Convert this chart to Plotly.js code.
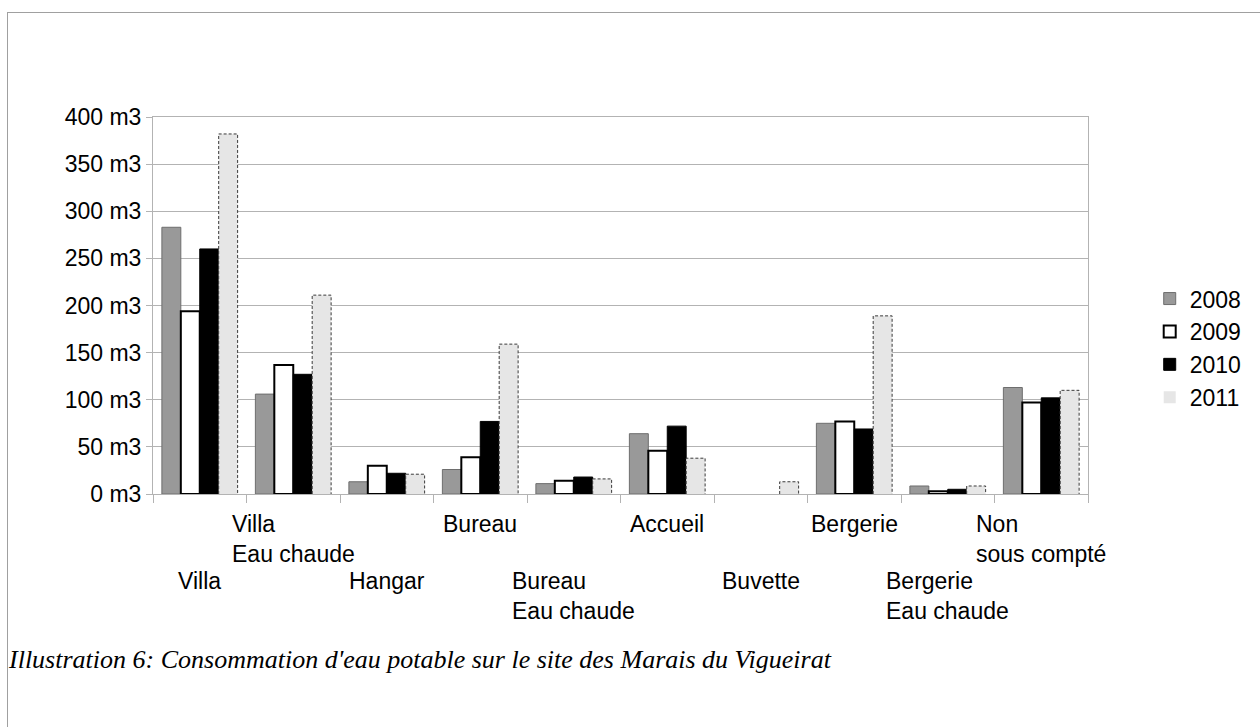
<!DOCTYPE html>
<html>
<head>
<meta charset="utf-8">
<script src="https://cdn.plot.ly/plotly-3.0.1.min.js"></script>
<style>
  html, body { margin: 0; padding: 0; background: #fff; }
  #wrap { position: relative; width: 1260px; height: 727px; }
  #chart { width: 1260px; height: 727px; }
  #frame { position: absolute; left: 7px; top: 12px; right: 0; bottom: 0;
           border-top: 1px solid #a0a0a0; border-left: 1px solid #a0a0a0; pointer-events: none; }
</style>
</head>
<body>
<div id="wrap">
  <div id="chart"></div>
  <div id="frame"></div>
</div>
<script>
const categories = ["Villa", "Villa<br>Eau chaude", "Hangar", "Bureau", "Bureau<br>Eau chaude",
                    "Accueil", "Buvette", "Bergerie", "Bergerie<br>Eau chaude", "Non<br>sous compté"];
const years = ["2008", "2009", "2010", "2011"];
const v2008 = [283, 106, 13, 26, 11, 64, null, 75, 8.5, 113];
const v2009 = [194, 137, 30, 39, 14, 46, null, 77, 3, 97];
const v2010 = [260, 127, 22, 77, 18, 72, null, 69, 5, 102];
const v2011 = [382, 211, 21, 159, 16, 38, 13, 189, 8.5, 110];
const yTicks = [0, 50, 100, 150, 200, 250, 300, 350, 400];

const idx = categories.map((_, i) => i);
const barW = 0.2025;
const offsets = [-2, -1, 0, 1].map(k => k * barW);

const styles = [
  {fill: "#999999", line: "#6e6e6e", lw: 1},
  {fill: "#ffffff", line: "#000000", lw: 2},
  {fill: "#000000", line: "#000000", lw: 1},
  {fill: "#e6e6e6", line: "#e6e6e6", lw: 0}
];
const series = [v2008, v2009, v2010, v2011];

const traces = series.map((vals, k) => ({
  type: "bar",
  name: years[k],
  x: idx,
  y: vals,
  width: barW,
  offset: offsets[k],
  marker: {color: styles[k].fill, line: {color: styles[k].line, width: styles[k].lw}},
  hoverinfo: "y+name"
}));

// dashed outline for 2011 bars, derived from data
const ox = [], oy = [];
v2011.forEach((v, i) => {
  if (v === null) return;
  const x0 = i + offsets[3], x1 = x0 + barW;
  ox.push(x0, x0, x1, x1, null);
  oy.push(0, v, v, 0, null);
});
traces.push({
  type: "scatter", mode: "lines", x: ox, y: oy, showlegend: false, hoverinfo: "skip",
  line: {color: "#3a3a3a", width: 1, dash: "3px,2px"}
});

const annotations = categories.map((c, i) => ({
  x: i, xref: "x",
  y: (i % 2 === 1) ? -0.04 : -0.19, yref: "paper",
  xanchor: "center", yanchor: "top", align: "left",
  text: c, showarrow: false,
  font: {family: "Liberation Sans, Arial, sans-serif", size: 23, color: "#000"}
}));
annotations.push({
  x: -0.157, xref: "paper", y: -0.44, yref: "paper",
  xanchor: "left", yanchor: "middle", showarrow: false,
  text: "<i>Illustration 6: Consommation d'eau potable sur le site des Marais du Vigueirat</i>",
  font: {family: "Liberation Serif, Times New Roman, serif", size: 26, color: "#000"}
});

const boundaries = categories.map((_, i) => i - 0.5).concat([categories.length - 0.5]);

const layout = {
  width: 1260, height: 727,
  margin: {l: 153, r: 172, t: 117, b: 233, pad: 0},
  paper_bgcolor: "#fff", plot_bgcolor: "#fff",
  barmode: "overlay",
  showlegend: true,
  legend: {
    x: 1.066, xanchor: "left", y: 0.387, yanchor: "middle",
    font: {family: "Liberation Sans, Arial, sans-serif", size: 23, color: "#000"},
    bgcolor: "rgba(0,0,0,0)", tracegroupgap: 0
  },
  xaxis: {
    type: "linear", range: [-0.5, categories.length - 0.5],
    tickmode: "array", tickvals: boundaries, showticklabels: false,
    ticks: "outside", ticklen: 8, tickcolor: "#b3b3b3", tickwidth: 1,
    showgrid: false, zeroline: false,
    showline: true, linecolor: "#b3b3b3", linewidth: 1, mirror: true, fixedrange: true
  },
  yaxis: {
    range: [0, 400], tickmode: "array", tickvals: yTicks,
    ticktext: yTicks.map(t => t + " m3"),
    ticks: "outside", ticklen: 6, tickcolor: "#b3b3b3",
    showgrid: true, gridcolor: "#b3b3b3", gridwidth: 1, zeroline: false,
    showline: true, linecolor: "#b3b3b3", linewidth: 1, mirror: true,
    tickfont: {family: "Liberation Sans, Arial, sans-serif", size: 23, color: "#000"},
    fixedrange: true
  },
  annotations: annotations
};

Plotly.newPlot("chart", traces, layout, {displayModeBar: false, staticPlot: true});
</script>
</body>
</html>
